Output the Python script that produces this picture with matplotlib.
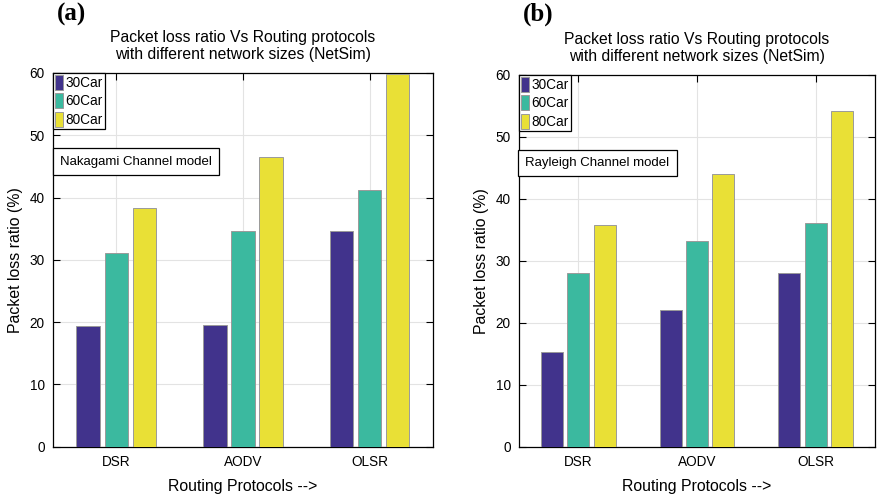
import numpy as np
import matplotlib
matplotlib.use("Agg")
import matplotlib.pyplot as plt

# data
protocols = ["DSR", "AODV", "OLSR"]
sizes = ["30Car", "60Car", "80Car"]
nakagami_30 = [19.3, 19.5, 34.6]
nakagami_60 = [31.1, 34.7, 41.2]
nakagami_80 = [38.3, 46.5, 59.8]
rayleigh_30 = [15.4, 22.1, 28.1]
rayleigh_60 = [28.1, 33.3, 36.2]
rayleigh_80 = [35.8, 44.1, 54.2]
colors = ["#41338c", "#3bb99f", "#e9e036"]

plt.rcParams['font.family'] = ['Liberation Sans', 'DejaVu Sans']

fig = plt.figure(figsize=(8.77, 5.01), dpi=100)

def draw_panel(rect, series, panel_label, box_text):
    ax = fig.add_axes(rect)
    x = np.arange(1, len(protocols) + 1)
    offs = [-0.222, 0.0, 0.222]
    for vals, off, c, lab in zip(series, offs, colors, sizes):
        ax.bar(x + off, vals, width=0.185, color=c, edgecolor="#9a9a9a",
               linewidth=0.7, label=lab, zorder=3)
    ax.set_xlim(0.5, 3.5)
    ax.set_ylim(0, 60)
    ax.set_xticks(x)
    ax.set_xticklabels(protocols, fontsize=9.8)
    ax.set_yticks(range(0, 61, 10))
    ax.tick_params(axis='y', labelsize=9.8)
    ax.tick_params(direction='in', top=True, right=True, length=5, width=0.8, pad=6)
    ax.grid(True, color="#e3e3e3", linewidth=0.8, zorder=0)
    for s in ax.spines.values():
        s.set_linewidth(0.9)
    ax.set_xlabel("Routing Protocols -->", fontsize=11.4, labelpad=7)
    ax.set_ylabel("Packet loss ratio (%)", fontsize=11.4, labelpad=5)
    ax.set_title("Packet loss ratio Vs Routing protocols\nwith different network sizes (NetSim)",
                 fontsize=11.3, pad=10, linespacing=1.2)
    leg = ax.legend(loc='upper left', bbox_to_anchor=(0.0, 1.0), fontsize=9.8,
                    handlelength=0.6, handleheight=1.3, handletextpad=0.15,
                    borderpad=0.15, borderaxespad=0.0, labelspacing=0.25,
                    fancybox=False, framealpha=1.0)
    leg.get_frame().set_edgecolor("black")
    leg.get_frame().set_linewidth(0.9)
    ax.text(0.018, 0.763, box_text, transform=ax.transAxes, fontsize=9.5,
            va='center', ha='left', zorder=5,
            bbox=dict(boxstyle='square,pad=0.55', facecolor='white',
                      edgecolor='black', linewidth=0.9))
    fig.text(rect[0] + 0.004, 1 - 3 / 501, panel_label, fontsize=18, fontweight='bold',
             family='Liberation Serif', ha='left', va='top')
    return ax

draw_panel([0.0604, 0.1084, 0.4333, 0.746],
           [nakagami_30, nakagami_60, nakagami_80], "(a)", "Nakagami Channel model")
draw_panel([0.5918, 0.1078, 0.406, 0.7425],
           [rayleigh_30, rayleigh_60, rayleigh_80], "(b)", "Rayleigh Channel model")

fig.savefig("out.png", dpi=100)
